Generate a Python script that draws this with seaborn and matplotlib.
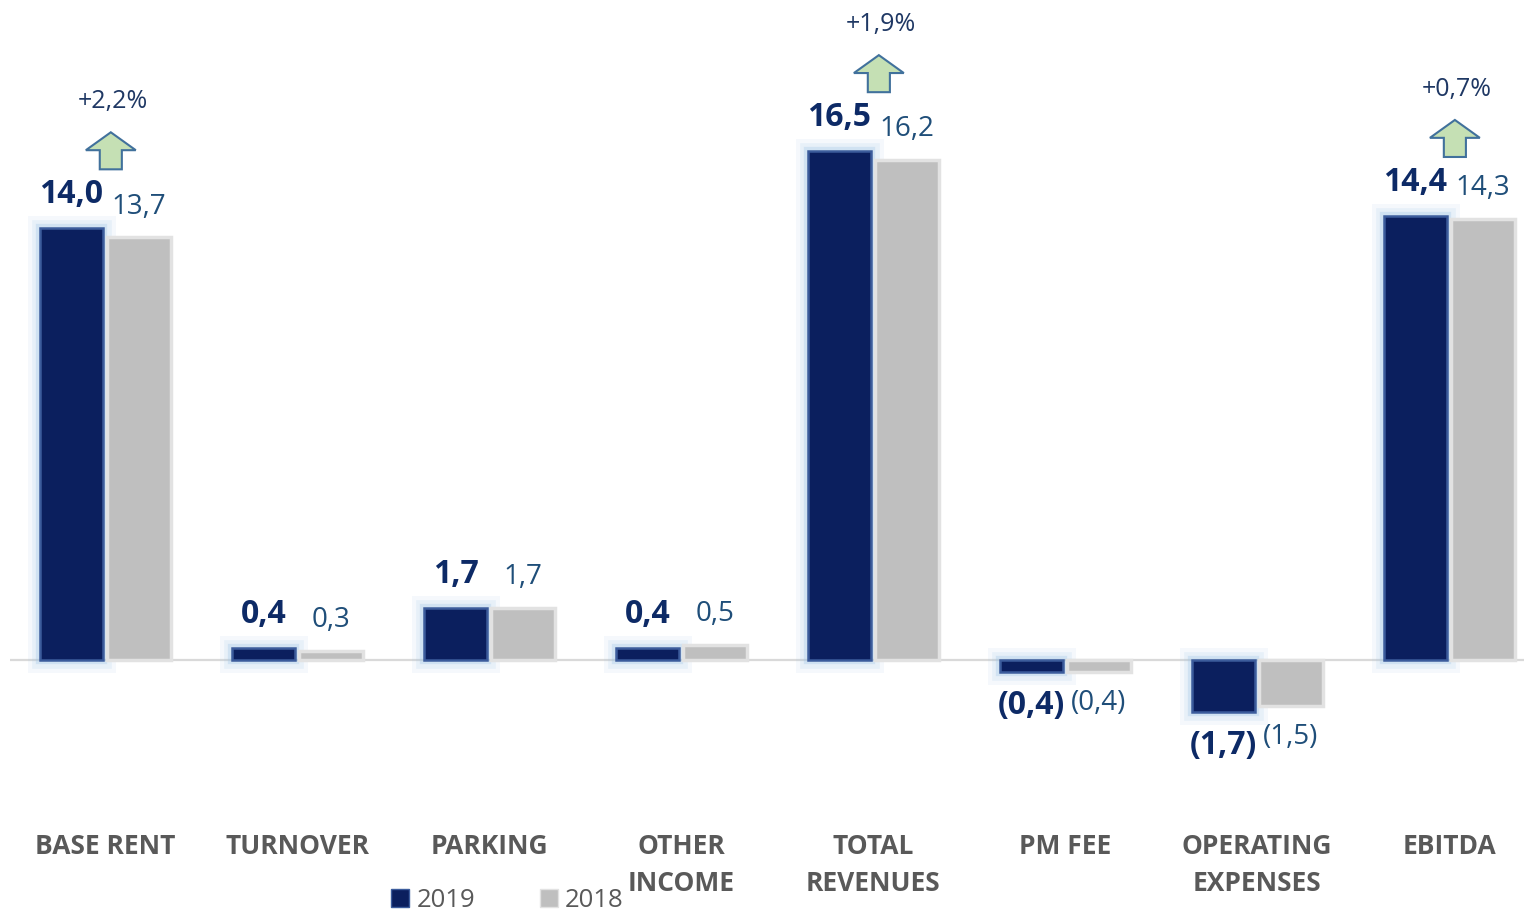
import matplotlib
matplotlib.use("Agg")
import matplotlib.pyplot as plt
import matplotlib.patheffects as pe
from matplotlib.patches import FancyArrow, Patch
import seaborn as sns
import pandas as pd

categories = ["BASE RENT", "TURNOVER", "PARKING", "OTHER\nINCOME", "TOTAL\nREVENUES",
              "PM FEE", "OPERATING\nEXPENSES", "EBITDA"]
values_2019 = [14.0, 0.4, 1.7, 0.4, 16.5, -0.4, -1.7, 14.4]
values_2018 = [13.7, 0.3, 1.7, 0.5, 16.2, -0.4, -1.5, 14.3]
growth = ["+2,2%", "", "", "", "+1,9%", "", "", "+0,7%"]
years = ["2019", "2018"]

NAVY = "#0B1F5E"
GRAY = "#BFBFBF"
LBL19 = "#0D2A66"
LBL18 = "#1F4E79"
CAT = "#595959"

df = pd.DataFrame({
    "category": categories * 2,
    "value": values_2019 + values_2018,
    "year": [years[0]] * len(categories) + [years[1]] * len(categories),
})

sns.set_theme(style="white")
plt.rcParams["font.family"] = ["Open Sans", "DejaVu Sans"]

fig = plt.figure(figsize=(15.24, 9.11), dpi=100)
ax = fig.add_axes([10 / 1524, 91 / 911, 1514 / 1524, 820 / 911])

sns.barplot(data=df, x="category", y="value", hue="year", order=categories,
            hue_order=years, palette=[NAVY, GRAY], width=0.7, gap=0.05,
            saturation=1, errorbar=None, legend=False, ax=ax, zorder=3)

ax.set_xlim(-0.495, 7.39)
ax.set_ylim(-5.185, 21.387)
for s in ax.spines.values():
    s.set_visible(False)
ax.set_yticks([])
ax.set_xlabel("")
ax.set_ylabel("")
ax.axhline(0, color="#D9D9D9", lw=1.6, zorder=1)

ax.tick_params(axis="x", length=0, pad=9)
for t in ax.get_xticklabels():
    t.set_fontsize(19)
    t.set_fontweight("bold")
    t.set_color(CAT)
    t.set_linespacing(1.5)

glow = [pe.Stroke(linewidth=18, foreground="#9DC3E6", alpha=0.10),
        pe.Stroke(linewidth=12, foreground="#9DC3E6", alpha=0.15),
        pe.Stroke(linewidth=6, foreground="#9DC3E6", alpha=0.30),
        pe.Normal()]
for p in ax.containers[0]:
    p.set_edgecolor("#3C5C9C")
    p.set_linewidth(1.8)
    p.set_path_effects(glow)
for p in ax.containers[1]:
    p.set_edgecolor("#E2E2E2")
    p.set_linewidth(2.5)


def fmt(v):
    s = f"{abs(v):.1f}".replace(".", ",")
    return f"({s})" if v < 0 else s


ax.bar_label(ax.containers[0], labels=[fmt(v) for v in values_2019], padding=12,
             fontsize=23, fontweight="bold", color=LBL19)
ax.bar_label(ax.containers[1], labels=[fmt(v) for v in values_2018], padding=12,
             fontsize=20, color=LBL18)

for i, g in enumerate(growth):
    if not g:
        continue
    base = max(values_2019[i], values_2018[i]) + 1.9
    xc = i + 0.03
    arr = FancyArrow(xc, base, 0, 1.2, width=0.115, head_width=0.26,
                     head_length=0.58, length_includes_head=True,
                     facecolor="#C5E0B4", edgecolor="#41719C", lw=1.5, zorder=4)
    ax.add_patch(arr)
    ax.text(xc + 0.01, base + 1.2 + 1.0, g, ha="center", va="center",
            fontsize=18, color="#1F3864")

handles = [Patch(facecolor=NAVY, edgecolor="#3C5C9C", label=years[0]),
           Patch(facecolor=GRAY, edgecolor="#E2E2E2", label=years[1])]
leg = fig.legend(handles=handles, loc="center", bbox_to_anchor=(0.333, 0.012),
                 ncol=2, frameon=False, fontsize=18.5, handlelength=0.7,
                 handleheight=0.7, handletextpad=0.3, columnspacing=2.5)
for t in leg.get_texts():
    t.set_color(CAT)

fig.savefig("out.png", dpi=100)
